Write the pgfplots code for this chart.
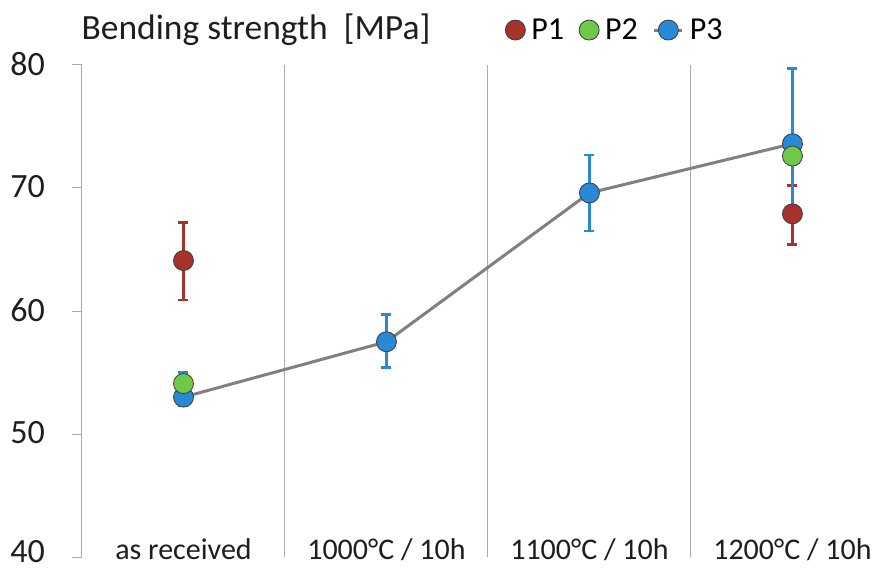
\documentclass[border=0pt]{standalone}
\usepackage{fontspec}
\setmainfont{Carlito}
\usepackage{pgfplots}
\pgfplotsset{compat=1.18}
\definecolor{cP1}{RGB}{166,50,44}
\definecolor{cP2}{RGB}{112,200,72}
\definecolor{cP3}{RGB}{40,138,214}
\definecolor{axgray}{RGB}{170,170,170}
\definecolor{lgray}{RGB}{128,128,128}
\definecolor{mk}{RGB}{60,60,60}
\definecolor{txt}{RGB}{30,30,30}
\pgfplotsset{p3leg/.style={legend image code/.code={\draw[##1, mark=none] (0pt,0pt) -- (28pt,0pt); \draw[##1, draw=none] plot coordinates {(14pt,0pt)};}}}
\begin{document}
\begin{tikzpicture}
\begin{axis}[
  at={(0,0)}, anchor=south west,
  scale only axis, width=803pt, height=492pt,
  xmin=-0.5, xmax=3.456, ymin=40, ymax=80,
  axis y line*=left, axis x line*=bottom,
  x axis line style={draw=none},
  y axis line style={axgray, line width=1pt},
  xtick={0,1,2,3},
  xticklabels={as received, 1000°C / 10h, 1100°C / 10h, 1200°C / 10h},
  major x tick style={draw=none},
  xticklabel style={anchor=base, yshift=8pt, font=\fontsize{30}{36}\selectfont, text=txt},
  minor xtick={0.5,1.5,2.5},
  minor x tick style={draw=none},
  xminorgrids, minor x grid style={axgray, line width=1pt},
  ytick={50,60,70,80},
  extra y ticks={40},
  extra y tick style={yticklabel style={yshift=4pt}},
  tick align=outside,
  major tick length=10pt,
  y tick style={axgray, line width=1pt},
  yticklabel style={font=\fontsize{34}{40}\selectfont, text=txt, inner sep=1pt, xshift=-26pt, yshift=1pt},
  /pgf/number format/assume math mode=true,
  clip=false,
  legend columns=3,
  legend style={draw=none, fill=none, at={(rel axis cs:0.527,1.071)}, anchor=west,
    font=\fontsize{32}{36}\selectfont, inner sep=0pt,
    /tikz/every odd column/.append style={column sep=4pt},
    /tikz/every even column/.append style={column sep=13pt}},
  legend cell align=left,
]
% P1 error bars
\addplot[forget plot, only marks, mark=none,
  error bars/.cd, y dir=both, y explicit,
  error bar style={cP1, line width=2.5pt},
  error mark options={rotate=90, mark size=5pt, line width=2.5pt, cP1}]
  coordinates {(0,64.1) += (0,3.1) -= (0,3.2) (3,67.9) += (0,2.3) -= (0,2.5)};
% P3 error bars
\addplot[forget plot, only marks, mark=none,
  error bars/.cd, y dir=both, y explicit,
  error bar style={cP3, line width=2.5pt},
  error mark options={rotate=90, mark size=5pt, line width=2.5pt, cP3}]
  coordinates {(0,53.0) += (0,2.0) -= (0,0.7) (1,57.5) += (0,2.2) -= (0,2.1)
               (2,69.6) += (0,3.1) -= (0,3.1) (3,73.6) += (0,6.1) -= (0,6.0)};
% P1 markers
\addplot[forget plot, only marks, mark=*, mark size=10pt,
  mark options={draw=mk, line width=0.8pt, fill=cP1}]
  coordinates {(0,64.1) (3,67.9)};
% P3 line and markers
\addplot[forget plot, lgray, line width=3pt, mark=*, mark size=10pt,
  mark options={draw=mk, line width=0.8pt, fill=cP3}]
  coordinates {(0,53.0) (1,57.5) (2,69.6) (3,73.6)};
% P2 markers
\addplot[forget plot, only marks, mark=*, mark size=10pt,
  mark options={draw=mk, line width=0.8pt, fill=cP2}]
  coordinates {(0,54.1) (3,72.6)};
% legend
\addlegendimage{only marks, mark=*, mark size=10pt, mark options={draw=mk, line width=0.8pt, fill=cP1}}
\addlegendentry{P1}
\addlegendimage{only marks, mark=*, mark size=10pt, mark options={draw=mk, line width=0.8pt, fill=cP2}}
\addlegendentry{P2}
\addlegendimage{lgray, line width=3pt, mark=*, mark size=10pt, mark options={draw=mk, line width=0.8pt, fill=cP3}, p3leg}
\addlegendentry{P3}
\end{axis}
\node[anchor=base west, font=\fontsize{35.5}{40}\selectfont, text=txt] at (-4pt,517pt) {Bending strength\ \ [MPa]};
\pgfresetboundingbox
\path[use as bounding box] (-82pt,-11pt) rectangle (803pt,557pt);
\end{tikzpicture}
\end{document}
